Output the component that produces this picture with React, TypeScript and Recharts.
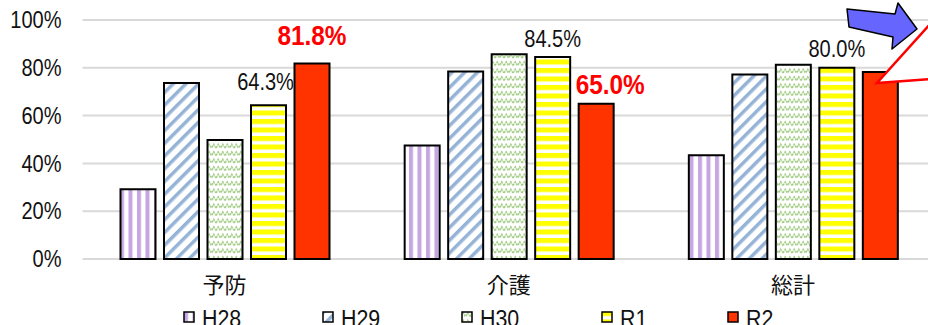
import { BarChart, Bar, XAxis, YAxis, CartesianGrid, Legend, LabelList } from "recharts";

const categories = ["予防", "介護", "総計"];
const seriesNames = ["H28", "H29", "H30", "R1", "R2"];
const h28 = [29.2, 47.5, 43.4];
const h29 = [73.6, 78.5, 77.2];
const h30 = [49.8, 85.7, 81.3];
const r1 = [64.3, 84.5, 80.0];
const r2 = [81.8, 65.0, 78.2];
const yTicks = [0, 20, 40, 60, 80, 100];
// which bars carry a value label
const r1Labelled = [true, true, true];
const r2Labelled = [true, true, false];

const data = categories.map((name, i) => ({
  name,
  H28: h28[i],
  H29: h29[i],
  H30: h30[i],
  R1: r1[i],
  R2: r2[i],
}));

const FONT = '"Liberation Sans", Arial, sans-serif';
const FILLS: Record<string, string> = {
  H28: "url(#pat-h28)",
  H29: "url(#pat-h29)",
  H30: "url(#pat-h30)",
  R1: "url(#pat-r1)",
  R2: "#ff3300",
};

// small nudges so the labels sit where the original put them
const r1Offsets = [{ dx: -3, dy: -15 }, { dx: 0, dy: -10 }, { dx: 0, dy: -11 }];
const r2Offsets = [{ dx: 0, dy: -18 }, { dx: 14, dy: -10 }, { dx: 0, dy: 0 }];

// the original uses a condensed face, so squeeze the text horizontally
const NarrowText = ({ x, y, size, bold, color, anchor, dy, children }: any) => (
  <text
    transform={`translate(${x},${y}) scale(0.87,1)`}
    textAnchor={anchor}
    dy={dy}
    fontFamily={FONT}
    fontSize={size}
    fontWeight={bold ? "bold" : "normal"}
    fill={color}
  >
    {children}
  </text>
);

function makeLabel(shown: boolean[], offsets: { dx: number; dy: number }[], red: boolean) {
  return (props: any) => {
    const { x, y, width, value, index } = props;
    if (!shown[index]) return null;
    const o = offsets[index];
    return (
      <NarrowText
        x={x + width / 2 + o.dx}
        y={y + o.dy}
        anchor="middle"
        size={red ? 28 : 23}
        bold={red}
        color={red ? "#ff0000" : "#111"}
      >
        {value.toFixed(1)}%
      </NarrowText>
    );
  };
}

const YTick = (props: any) => (
  <NarrowText x={props.x} y={props.y} anchor="end" dy="0.355em" size={23} color="#111">
    {props.payload.value}%
  </NarrowText>
);

const renderLegend = () => (
  <div style={{ display: "flex", paddingLeft: 183, height: 46, paddingTop: 9, boxSizing: "border-box" }}>
    {seriesNames.map((s) => (
      <div key={s} style={{ display: "flex", alignItems: "flex-start", marginRight: 78 }}>
        <svg width={12} height={12} style={{ marginTop: 3, marginRight: 7 }}>
          <rect x={1} y={1} width={10} height={10} fill={FILLS[s]} stroke="#000" strokeWidth={1.5} />
        </svg>
        <span
          style={{
            fontFamily: FONT,
            fontSize: 23,
            lineHeight: "22px",
            color: "#111",
            display: "inline-block",
            transform: "scaleX(0.93)",
            transformOrigin: "left",
          }}
        >
          {s}
        </span>
      </div>
    ))}
  </div>
);

export default function App() {
  return (
    <div style={{ position: "absolute", left: 0, top: 0, width: 928, height: 325, overflow: "hidden", background: "#fff" }}>
      <BarChart
        width={940}
        height={345}
        data={data}
        margin={{ top: 20, right: 5, bottom: 0, left: 0 }}
        barSize={35}
        barGap={8.5}
      >
        <defs>
          <pattern id="pat-h28" width={8.5} height={10} patternUnits="userSpaceOnUse">
            <rect width={8.5} height={10} fill="#fff" />
            <rect x={1} width={4} height={10} fill="#c5a5e2" />
          </pattern>
          <pattern id="pat-h29" width={9} height={9} patternUnits="userSpaceOnUse" patternTransform="rotate(45)">
            <rect width={9} height={9} fill="#fff" />
            <rect width={3.5} height={9} fill="#95b3d7" />
          </pattern>
          <pattern id="pat-h30" width={9} height={7.5} patternUnits="userSpaceOnUse">
            <rect width={9} height={7.5} fill="#fff" />
            <polyline
              points="0,5.5 2.25,2 4.5,5.5 6.75,2 9,5.5"
              fill="none"
              stroke="#9cc97c"
              strokeWidth={1.6}
              strokeDasharray="2 1"
            />
          </pattern>
          <pattern id="pat-r1" width={10} height={8.5} patternUnits="userSpaceOnUse">
            <rect width={10} height={8.5} fill="#fff" />
            <rect width={10} height={5} fill="#ffff00" />
          </pattern>
        </defs>
        <CartesianGrid vertical={false} stroke="#d9d9d9" strokeWidth={2} />
        <XAxis
          dataKey="name"
          height={40}
          axisLine={false}
          tickLine={false}
          tickSize={0}
          tickMargin={18}
          tick={{ fill: "#111", fontSize: 22, fontFamily: '"Noto Sans CJK JP", sans-serif' }}
        />
        <YAxis
          width={82.5}
          domain={[0, 100]}
          ticks={yTicks}
          axisLine={false}
          tickLine={false}
          tickSize={0}
          tickMargin={21}
          tick={YTick}
        />
        <Legend verticalAlign="bottom" align="left" height={46} content={renderLegend} />
        {seriesNames.map((s) => (
          <Bar key={s} dataKey={s} fill={FILLS[s]} stroke="#000" strokeWidth={2} isAnimationActive={false}>
            {s === "R1" && <LabelList dataKey="R1" content={makeLabel(r1Labelled, r1Offsets, false)} />}
            {s === "R2" && <LabelList dataKey="R2" content={makeLabel(r2Labelled, r2Offsets, true)} />}
          </Bar>
        ))}
      </BarChart>
      {/* arrow and callout drawn over the chart */}
      <svg width={928} height={325} style={{ position: "absolute", left: 0, top: 0, pointerEvents: "none" }}>
        <polygon
          points="847,9 895,14 898,3 917,29 892,49 893,37 849,27"
          fill="#6666ff"
          stroke="#000"
          strokeWidth={1.5}
          strokeLinejoin="round"
        />
        <polygon points="932,22 877,83 932,79" fill="#fff" stroke="#ff0000" strokeWidth={2.5} />
      </svg>
    </div>
  );
}
